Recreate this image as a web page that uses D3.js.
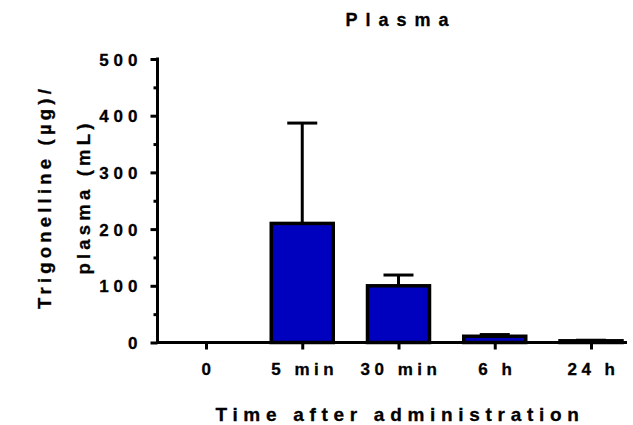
<!DOCTYPE html>
<html>
<head>
<meta charset="utf-8">
<script src="https://cdn.jsdelivr.net/npm/d3@7"></script>
<style>
  body { margin: 0; background: #fff; }
  text { font-family: "Liberation Sans", Arial, sans-serif; font-weight: bold; fill: #000; stroke: #000; stroke-width: 0.3px; }
</style>
</head>
<body>
<svg id="chart" width="633" height="425"></svg>
<script>
let categories = ["0", "5 min", "30 min", "6 h", "24 h"]
let means = [0, 210, 100, 11, 3]
let errors = [0, 177, 19, 3, 1]
let yTicks = [0, 100, 200, 300, 400, 500]
let yMinorTicks = [50, 150, 250, 350, 450]

let svg = d3.select("#chart")

let y = d3.scaleLinear()
    .domain([0, 500])
    .range([342.5, 59])

let x = d3.scalePoint()
    .domain(categories)
    .range([206, 591])

let barWidth = 62

// bars
svg.selectAll("rect.bar")
    .data(categories)
    .enter()
    .append("rect")
    .attr("class", "bar")
    .attr("x", d => x(d) - barWidth / 2)
    .attr("width", barWidth)
    .attr("y", (d, i) => y(means[i]))
    .attr("height", (d, i) => y(0) - y(means[i]))
    .attr("fill", "#0000bf")
    .attr("stroke", "#000")
    .attr("stroke-width", 3.5)
    .style("display", (d, i) => means[i] > 0 ? null : "none")

// error bars (upper only)
let errs = svg.selectAll("g.err")
    .data(categories)
    .enter()
    .append("g")
    .attr("class", "err")
    .style("display", (d, i) => errors[i] > 0 ? null : "none")

errs.append("line")
    .attr("x1", d => x(d))
    .attr("x2", d => x(d))
    .attr("y1", (d, i) => y(means[i]))
    .attr("y2", (d, i) => y(means[i] + errors[i]))
    .attr("stroke", "#000")
    .attr("stroke-width", 3)

errs.append("line")
    .attr("x1", d => x(d) - 15)
    .attr("x2", d => x(d) + 15)
    .attr("y1", (d, i) => y(means[i] + errors[i]))
    .attr("y2", (d, i) => y(means[i] + errors[i]))
    .attr("stroke", "#000")
    .attr("stroke-width", 3)

// y axis
let yAxis = d3.axisLeft(y)
    .tickValues(yTicks)
    .tickSize(7)
    .tickPadding(13)
let yG = svg.append("g")
    .attr("transform", "translate(157.5, 0)")
    .call(yAxis)
yG.select(".domain").remove()
yG.selectAll(".tick line").attr("stroke-width", 3)
yG.selectAll(".tick text")
    .attr("font-size", 17)
    .style("letter-spacing", "5px")
    .attr("dx", 5)
    .attr("dy", "0.36em")

let yMinor = d3.axisLeft(y)
    .tickValues(yMinorTicks)
    .tickSize(4)
    .tickFormat("")
let yMG = svg.append("g")
    .attr("transform", "translate(157.5, 0)")
    .call(yMinor)
yMG.select(".domain").remove()
yMG.selectAll(".tick line").attr("stroke-width", 3)

svg.append("line")
    .attr("x1", 157.5).attr("x2", 157.5)
    .attr("y1", y(500) - 1.5).attr("y2", y(0) + 1.5)
    .attr("stroke", "#000").attr("stroke-width", 3)

// x axis
let xAxis = d3.axisBottom(x)
    .tickSize(7)
    .tickPadding(13)
let xG = svg.append("g")
    .attr("transform", "translate(0, 342.5)")
    .call(xAxis)
xG.select(".domain").remove()
xG.selectAll(".tick line").attr("stroke-width", 3)
xG.selectAll(".tick text")
    .attr("font-size", 17)
    .style("letter-spacing", "4.5px")
    .attr("dx", 2)

svg.append("line")
    .attr("x1", 156).attr("x2", 627)
    .attr("y1", y(0)).attr("y2", y(0))
    .attr("stroke", "#000").attr("stroke-width", 3)

// title
svg.append("text")
    .attr("x", 397 + 4)
    .attr("y", 25.5)
    .attr("text-anchor", "middle")
    .attr("font-size", 18)
    .style("letter-spacing", "8px")
    .text("Plasma")

// x label
svg.append("text")
    .attr("x", 397 + 3)
    .attr("y", 421)
    .attr("text-anchor", "middle")
    .attr("font-size", 19)
    .style("letter-spacing", "5.7px")
    .text("Time after administration")

// y label
let yLabel = svg.append("text")
    .attr("transform", "translate(0, 199) rotate(-90)")
    .attr("text-anchor", "middle")
    .attr("font-size", 18.5)
    .style("letter-spacing", "4.2px")
yLabel.append("tspan").attr("x", 2).attr("y", 51).text("Trigonelline (µg)/")
yLabel.append("tspan").attr("x", 2).attr("y", 89.5).text("plasma (mL)")
</script>
</body>
</html>
